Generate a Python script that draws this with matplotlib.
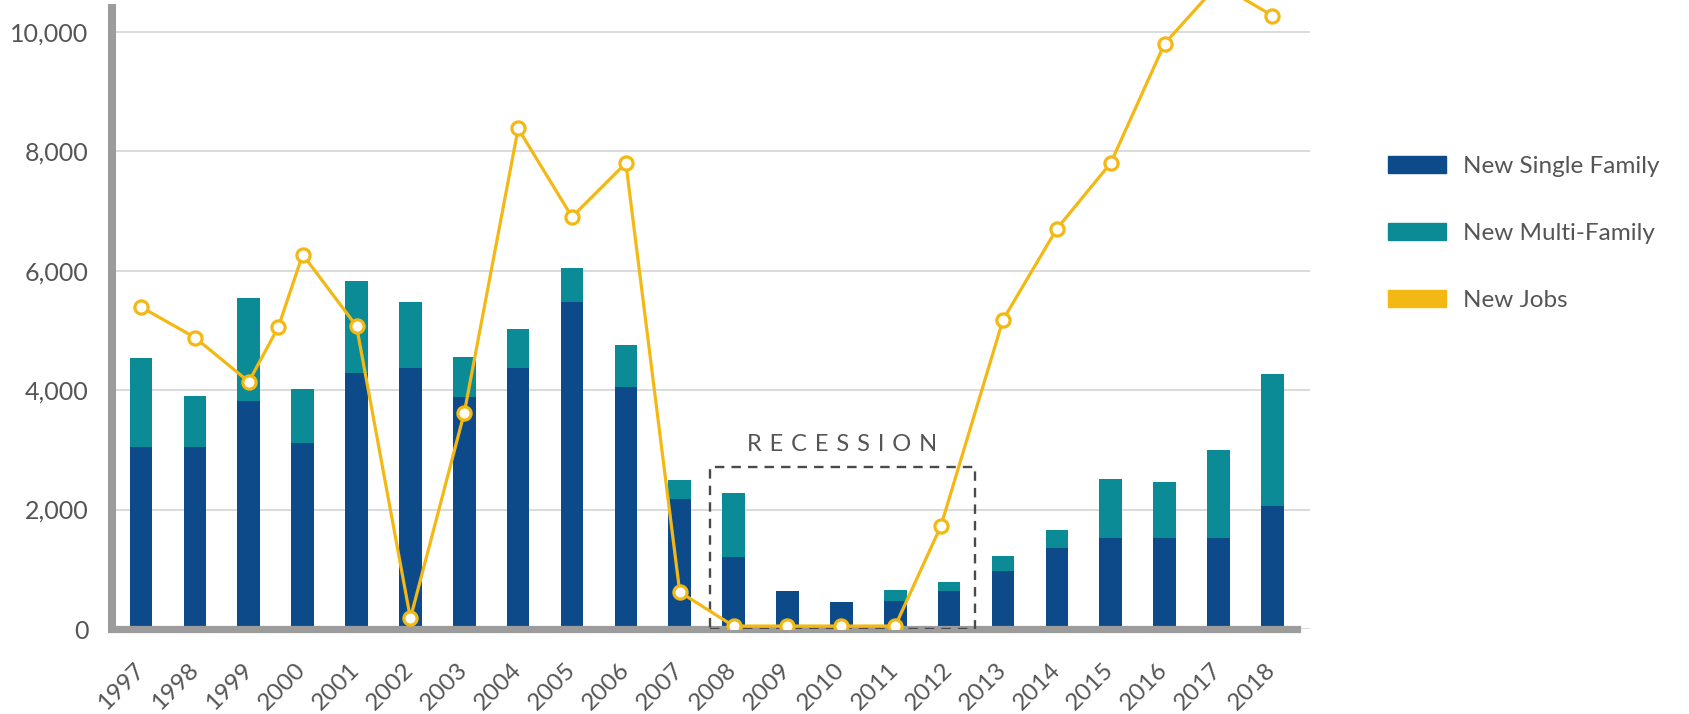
import matplotlib
matplotlib.use("Agg")
import matplotlib.pyplot as plt
from matplotlib.patches import Patch, Rectangle

plt.rcParams["font.family"] = ["Lato", "DejaVu Sans"]

# ---------------------------------------------------------------------
# Data
# ---------------------------------------------------------------------
years = list(range(1997, 2019))

single_family = [3040, 3040, 3810, 3110, 4280, 4370, 3890, 4370, 5480, 4050, 2170,
                 1210, 640, 450, 470, 640, 965, 1360, 1520, 1520, 1520, 2060]
multi_family = [1500, 860, 1730, 915, 1540, 1110, 660, 655, 570, 710, 320,
                1060, 0, 0, 180, 140, 265, 300, 1000, 940, 1480, 2210]

# the jobs line has one extra point between 1999 and 2000
job_x = [1997, 1998, 1999, 1999.55, 2000, 2001, 2002, 2003, 2004, 2005, 2006,
         2007, 2008, 2009, 2010, 2011, 2011.85, 2013, 2014, 2015, 2016, 2017, 2018]
new_jobs = [5390, 4880, 4140, 5060, 6270, 5070, 180, 3620, 8380, 6900, 7800,
            620, 50, 50, 50, 50, 1730, 5175, 6700, 7800, 9800, 10800, 10270]

y_ticks = [0, 2000, 4000, 6000, 8000, 10000]
recession = (2007.56, 2012.48, 2720)   # x from, x to, box height

BLUE = "#0c4a8a"
TEAL = "#0b8b95"
GOLD = "#f4b814"
TEXT = "#555555"

# ---------------------------------------------------------------------
# Figure
# ---------------------------------------------------------------------
fig = plt.figure(figsize=(16.89, 7.14), dpi=100)
ax = fig.add_axes([0.0663, 0.119, 0.7093, 0.881])

ax.bar(years, single_family, width=0.42, color=BLUE, zorder=2)
ax.bar(years, multi_family, width=0.42, bottom=single_family, color=TEAL, zorder=2)

ax.plot(job_x, new_jobs, color=GOLD, lw=2.3, marker="o", ms=9.5,
        mfc="white", mec=GOLD, mew=2.3, zorder=4)

# recession box
x0, x1, h = recession
ax.add_patch(Rectangle((x0, 0), x1 - x0, h, fill=False, ec="#4a4a4a",
                       lw=1.7, ls=(0, (4, 3)), zorder=3))
ax.text((x0 + x1) / 2, h + 200, "\u2004".join("RECESSION"), ha="center",
        va="bottom", fontsize=17, color="#555555")

ax.set_xlim(1996.46, 2018.70)
ax.set_ylim(0, 10531)

ax.set_yticks(y_ticks, [f"{v:,}" for v in y_ticks])
ax.set_xticks(years, [str(y) for y in years], rotation=45, ha="right",
              va="center", rotation_mode="anchor")
ax.tick_params(axis="y", length=0, pad=17, labelsize=18, labelcolor=TEXT)
ax.tick_params(axis="x", length=0, pad=27, labelsize=17.5, labelcolor=TEXT)

ax.grid(axis="y", color="#d4d4d4", lw=1.2, zorder=0)
ax.set_axisbelow(True)

for side in ["top", "right"]:
    ax.spines[side].set_visible(False)
ax.spines["left"].set_color("#9c9c9c")
ax.spines["left"].set_linewidth(5.8)
ax.spines["left"].set_bounds(0, 10400)
ax.spines["bottom"].set_color("#9c9c9c")
ax.spines["bottom"].set_linewidth(5.2)
ax.spines["bottom"].set_bounds(1996.46, 2018.45)

handles = [Patch(color=BLUE, label="New Single Family"),
           Patch(color=TEAL, label="New Multi-Family"),
           Patch(color=GOLD, label="New Jobs")]
fig.legend(handles=handles, loc="center left", bbox_to_anchor=(0.8145, 0.673),
           frameon=False, fontsize=17.5, handlelength=2.4, handleheight=0.72,
           handletextpad=0.7, labelspacing=1.88, borderpad=0, labelcolor=TEXT)

fig.savefig("out.png", dpi=100)
